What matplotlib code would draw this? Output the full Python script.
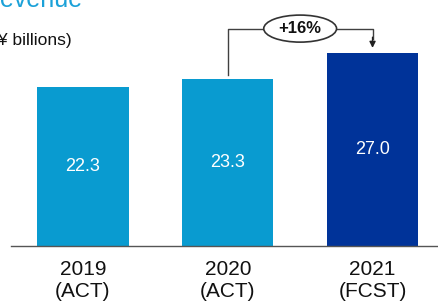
import matplotlib.pyplot as plt
from matplotlib.patches import Ellipse

plt.rcParams['font.family'] = ['Liberation Sans', 'DejaVu Sans']

years = ["2019\n(ACT)", "2020\n(ACT)", "2021\n(FCST)"]
revenue = [22.3, 23.3, 27.0]
value_labels = ["22.3", "23.3", "27.0"]
growth_label = "+16%"
bar_colors = ["#099bd0", "#099bd0", "#003399"]

fig = plt.figure(figsize=(4.39, 3.03), dpi=100)
ax = fig.add_axes([11 / 439, 57 / 303, 428 / 439, 246 / 303])

x = list(range(len(revenue)))
ax.bar(x, revenue, width=0.63, color=bar_colors)
for xi, v, lab in zip(x, revenue, value_labels):
    ax.text(xi, v / 2, lab, ha="center", va="center", color="white", fontsize=13)

ax.set_xlim(-0.497, 2.459)
ax.set_ylim(0, 34.4)
ax.set_xticks(x)
ax.set_xticklabels(years, fontsize=15, linespacing=1.22, color="#111111")
ax.tick_params(axis="x", length=0, pad=10)
ax.set_yticks([])
for s in ["top", "right", "left"]:
    ax.spines[s].set_visible(False)
ax.spines["bottom"].set_color("#555555")
ax.spines["bottom"].set_linewidth(1)

# growth bracket from 2020 to 2021
level = max(revenue) + 3.4
ax.plot([1, 1, 2, 2], [revenue[1] + 0.6, level, level, revenue[2] + 2.0],
        color="#404040", lw=1, clip_on=False)
ax.annotate("", xy=(2, revenue[2] + 0.7), xytext=(2, revenue[2] + 2.2),
            arrowprops=dict(arrowstyle="-|>", color="#202020", lw=1,
                            mutation_scale=9, shrinkA=0, shrinkB=0),
            annotation_clip=False)
ell = Ellipse((1.5, level), 0.503, 3.78, facecolor="white",
              edgecolor="#333333", lw=1.2, clip_on=False, zorder=3)
ax.add_patch(ell)
ax.text(1.5, level, growth_label, ha="center", va="center", fontsize=12,
        fontweight="bold", color="#111111", zorder=4)

fig.text(-18 / 439, 1 - 7 / 303, "Revenue", fontsize=18, color="#1ba1d8",
         va="baseline", ha="left")
fig.text(-8 / 439, 1 - 45 / 303, "(¥ billions)", fontsize=12.5, color="#111111",
         va="baseline", ha="left")

fig.savefig("out.png", dpi=100)
